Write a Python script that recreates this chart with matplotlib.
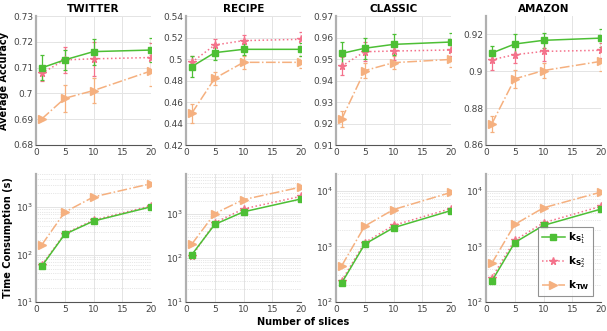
import matplotlib
matplotlib.use("Agg")
import matplotlib.pyplot as plt
import numpy as np

datasets = ["TWITTER", "RECIPE", "CLASSIC", "AMAZON"]
slices = [1, 5, 10, 20]

# Accuracy means and errors
acc_s1 = {
    "TWITTER": [0.7099, 0.7130, 0.7162, 0.7168],
    "RECIPE": [0.4929, 0.5059, 0.5090, 0.5090],
    "CLASSIC": [0.9526, 0.9550, 0.9568, 0.9579],
    "AMAZON": [0.9099, 0.9148, 0.9168, 0.9180],
}
acc_s1_err = {
    "TWITTER": [0.0048, 0.0040, 0.0050, 0.0048],
    "RECIPE": [0.0100, 0.0070, 0.0050, 0.0060],
    "CLASSIC": [0.0053, 0.0050, 0.0050, 0.0044],
    "AMAZON": [0.0036, 0.0056, 0.0039, 0.0050],
}
acc_s2 = {
    "TWITTER": [0.7078, 0.7130, 0.7134, 0.7139],
    "RECIPE": [0.4969, 0.5130, 0.5171, 0.5183],
    "CLASSIC": [0.9467, 0.9534, 0.9537, 0.9542],
    "AMAZON": [0.9063, 0.9090, 0.9108, 0.9114],
}
acc_s2_err = {
    "TWITTER": [0.0030, 0.0050, 0.0065, 0.0057],
    "RECIPE": [0.0060, 0.0060, 0.0055, 0.0065],
    "CLASSIC": [0.0040, 0.0043, 0.0040, 0.0030],
    "AMAZON": [0.0054, 0.0045, 0.0050, 0.0040],
}
acc_tw = {
    "TWITTER": [0.6901, 0.6981, 0.7011, 0.7087],
    "RECIPE": [0.4495, 0.4820, 0.4969, 0.4969],
    "CLASSIC": [0.9221, 0.9446, 0.9483, 0.9498],
    "AMAZON": [0.8714, 0.8959, 0.9004, 0.9054],
}
acc_tw_err = {
    "TWITTER": [0.0005, 0.0053, 0.0050, 0.0060],
    "RECIPE": [0.0090, 0.0060, 0.0060, 0.0055],
    "CLASSIC": [0.0035, 0.0035, 0.0030, 0.0033],
    "AMAZON": [0.0045, 0.0050, 0.0043, 0.0050],
}

# Time consumption (s)
time_s1 = {
    "TWITTER": [57, 268, 509, 1016],
    "RECIPE": [118, 575, 1110, 2172],
    "CLASSIC": [221, 1097, 2163, 4400],
    "AMAZON": [236, 1170, 2383, 4680],
}
time_s2 = {
    "TWITTER": [60, 277, 534, 1065],
    "RECIPE": [108, 628, 1295, 2495],
    "CLASSIC": [243, 1170, 2383, 4786],
    "AMAZON": [271, 1288, 2655, 5248],
}
time_tw = {
    "TWITTER": [160, 785, 1644, 3126],
    "RECIPE": [205, 1016, 2100, 4043],
    "CLASSIC": [450, 2318, 4592, 9330],
    "AMAZON": [494, 2483, 4940, 9460],
}

acc_ylim = {"TWITTER": (0.68, 0.73), "RECIPE": (0.42, 0.54),
            "CLASSIC": (0.91, 0.97), "AMAZON": (0.86, 0.93)}
acc_ticks = {"TWITTER": [0.68, 0.69, 0.70, 0.71, 0.72, 0.73],
             "RECIPE": [0.42, 0.44, 0.46, 0.48, 0.50, 0.52, 0.54],
             "CLASSIC": [0.91, 0.92, 0.93, 0.94, 0.95, 0.96, 0.97],
             "AMAZON": [0.86, 0.88, 0.90, 0.92]}
acc_ticklabels = {"TWITTER": ["0.68", "0.69", "0.7", "0.71", "0.72", "0.73"],
                  "RECIPE": ["0.42", "0.44", "0.46", "0.48", "0.5", "0.52", "0.54"],
                  "CLASSIC": ["0.91", "0.92", "0.93", "0.94", "0.95", "0.96", "0.97"],
                  "AMAZON": ["0.86", "0.88", "0.9", "0.92"]}
time_ylim = {"TWITTER": (10, 5000), "RECIPE": (10, 8000),
             "CLASSIC": (100, 20000), "AMAZON": (100, 20000)}

labels = [r"$\mathbf{k}_{\mathbf{S}_{1}^{1}}$", r"$\mathbf{k}_{\mathbf{S}_{2}^{2}}$", r"$\mathbf{k}_{\mathbf{TW}}$"]
colors = ["#4dbf35", "#f4728b", "#f5b07f"]
markers = ["s", "*", ">"]
msizes = [4.5, 5.5, 6]
lstyles = ["-", ":", "-."]

W, H = 607, 331
fig = plt.figure(figsize=(W / 100, H / 100), dpi=100)
lefts = [36, 186, 336, 486]
aw = 115

tick_color = "#444444"

def style_ax(ax):
    for s in ["top", "right"]:
        ax.spines[s].set_visible(False)
    ax.spines["left"].set_color("#b0b0b0")
    ax.spines["left"].set_linewidth(1.6)
    ax.spines["bottom"].set_color("#555555")
    ax.spines["bottom"].set_linewidth(0.8)
    ax.tick_params(labelsize=6.5, colors=tick_color, length=0, pad=2)
    ax.set_xlim(0, 20)
    ax.set_xticks([0, 5, 10, 15, 20])
    ax.set_axisbelow(True)

for i, d in enumerate(datasets):
    ax = fig.add_axes([lefts[i] / W, 1 - 145 / H, aw / W, 129 / H])
    style_ax(ax)
    ax.grid(True, color="#e4e4e4", linewidth=0.7)
    for k, (m, e) in enumerate([(acc_s1, acc_s1_err), (acc_s2, acc_s2_err), (acc_tw, acc_tw_err)]):
        ax.errorbar(slices, m[d], yerr=e[d], color=colors[k], marker=markers[k],
                    markersize=msizes[k], linestyle=lstyles[k], linewidth=1.1,
                    capsize=1.6, elinewidth=0.9, capthick=0.9, zorder=3 - k * 0.1)
    ax.set_ylim(*acc_ylim[d])
    ax.set_yticks(acc_ticks[d])
    ax.set_yticklabels(acc_ticklabels[d])
    ax.set_title(d, fontsize=7.5, fontweight="bold", pad=3)
    if i == 0:
        ax.set_ylabel("Average Accuracy", fontsize=7, fontweight="bold", labelpad=3)

for i, d in enumerate(datasets):
    ax = fig.add_axes([lefts[i] / W, 1 - 302 / H, aw / W, 128 / H])
    style_ax(ax)
    ax.set_yscale("log")
    ax.grid(True, which="major", color="#e4e4e4", linewidth=0.7)
    ax.grid(True, which="minor", color="#d0d0d0", linewidth=0.5, linestyle=":")
    ax.tick_params(which="minor", length=0)
    hs = []
    for k, t in enumerate([time_s1, time_s2, time_tw]):
        h, = ax.plot(slices, t[d], color=colors[k], marker=markers[k], markersize=msizes[k],
                     linestyle=lstyles[k], linewidth=1.1, label=labels[k], zorder=3 - k * 0.1)
        hs.append(h)
    ax.set_ylim(*time_ylim[d])
    if i == 0:
        ax.set_ylabel("Time Consumption (s)", fontsize=7, fontweight="bold", labelpad=2)
    if i == 3:
        leg = ax.legend(handles=hs, loc="lower right", bbox_to_anchor=(0.95, 0.03),
                        fontsize=7.5, frameon=True, fancybox=False, edgecolor="#777777",
                        handlelength=2.2, labelspacing=0.8, borderpad=0.35,
                        handletextpad=0.3, borderaxespad=0.2)
        leg.get_frame().set_linewidth(0.8)

fig.text(0.5, 0.012, "Number of slices", ha="center", va="bottom",
         fontsize=7, fontweight="bold")

fig.savefig("out.png", dpi=100)
